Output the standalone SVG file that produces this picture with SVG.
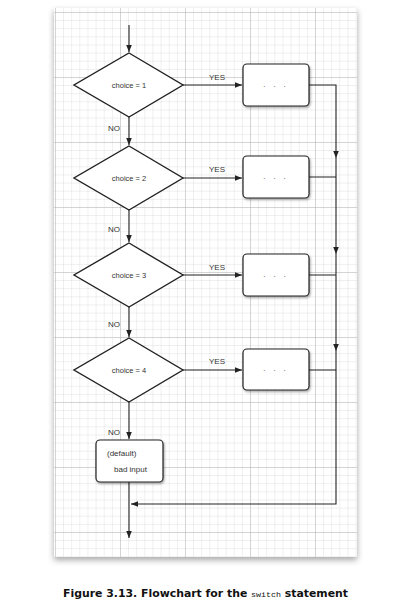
<svg xmlns="http://www.w3.org/2000/svg" width="402" height="607" viewBox="0 0 402 607">
<style>
.lbl{font-family:"Liberation Sans",Arial,sans-serif;font-size:8px;fill:#333}
.cond{font-family:"Liberation Sans",Arial,sans-serif;font-size:7.5px;fill:#333;text-anchor:middle}
.dia{fill:#fff;stroke:#222;stroke-width:1.4}
.box{fill:#fff;stroke:#222;stroke-width:1.2}
.con{fill:none;stroke:#222;stroke-width:1.1}
.cap{font-family:"DejaVu Sans",Verdana,sans-serif;font-weight:bold;font-size:10.5px;fill:#111}
.mono{font-family:"Liberation Mono","DejaVu Sans Mono",monospace;font-weight:normal;font-size:8px}
</style>
<defs>
<pattern id="minor" width="8.125" height="8.125" patternUnits="userSpaceOnUse" x="55" y="12">
<path d="M0 0H8.125M0 0V8.125" fill="none" stroke="#d8d8d8" stroke-width="0.8"/>
</pattern>
<pattern id="major" width="65" height="65" patternUnits="userSpaceOnUse" x="55" y="12">
<path d="M0 0H65M0 0V65" fill="none" stroke="#b4b4b4" stroke-width="0.9"/>
</pattern>
<filter id="pshadow" x="-10%" y="-10%" width="120%" height="120%">
<feDropShadow dx="0" dy="3" stdDeviation="3" flood-color="#000" flood-opacity="0.35"/>
</filter>
<filter id="bshadow" x="-20%" y="-20%" width="140%" height="140%">
<feDropShadow dx="1" dy="1.5" stdDeviation="1" flood-color="#000" flood-opacity="0.35"/>
</filter>
<marker id="arr" markerWidth="8" markerHeight="8" refX="7" refY="4" orient="auto" markerUnits="userSpaceOnUse">
<path d="M0 1.2L7 4L0 6.8z" fill="#222"/>
</marker>
</defs>
<rect width="402" height="607" fill="#fff"/>
<g id="paper">
<rect x="54" y="8" width="303" height="549" fill="#fff" filter="url(#pshadow)"/>
<rect x="54" y="8" width="303" height="549" fill="url(#minor)"/>
<rect x="54" y="8" width="303" height="549" fill="url(#major)"/>
</g>
<g id="connectors">
<path class="con" d="M129 25V52" marker-end="url(#arr)"/>
<path class="con" d="M129 117V145" marker-end="url(#arr)"/>
<path class="con" d="M129 210V242" marker-end="url(#arr)"/>
<path class="con" d="M129 307V337" marker-end="url(#arr)"/>
<path class="con" d="M129 402V439" marker-end="url(#arr)"/>
<path class="con" d="M183 85H242" marker-end="url(#arr)"/>
<path class="con" d="M183 178H242" marker-end="url(#arr)"/>
<path class="con" d="M183 275H242" marker-end="url(#arr)"/>
<path class="con" d="M183 370H242" marker-end="url(#arr)"/>
<path class="con" d="M309 85H336V158" marker-end="url(#arr)"/>
<path class="con" d="M336 158V254" marker-end="url(#arr)"/>
<path class="con" d="M336 254V351" marker-end="url(#arr)"/>
<path class="con" d="M336 351V504H131" marker-end="url(#arr)"/>
<path class="con" d="M309 177H336M309 275H336M309 370H336"/>
<path class="con" d="M129 482V538" marker-end="url(#arr)"/>
<text class="lbl" x="209" y="80">YES</text>
<text class="lbl" x="209" y="172">YES</text>
<text class="lbl" x="209" y="270">YES</text>
<text class="lbl" x="209" y="364">YES</text>
<text class="lbl" x="108" y="131">NO</text>
<text class="lbl" x="108" y="232">NO</text>
<text class="lbl" x="108" y="327">NO</text>
<text class="lbl" x="108" y="435">NO</text>
</g>
<g id="d1"><path class="dia" d="M129 53L183 85L129 117L74 85z"/><text class="cond" x="129" y="88">choice = 1</text></g>
<g id="d2"><path class="dia" d="M129 146L183 178L129 210L74 178z"/><text class="cond" x="129" y="181">choice = 2</text></g>
<g id="d3"><path class="dia" d="M129 243L183 275L129 307L74 275z"/><text class="cond" x="129" y="278">choice = 3</text></g>
<g id="d4"><path class="dia" d="M129 338L183 370L129 402L74 370z"/><text class="cond" x="129" y="373">choice = 4</text></g>
<g id="b1"><rect class="box" x="243" y="64" width="66" height="42" rx="4" filter="url(#bshadow)"/><text class="cond" x="276" y="87" letter-spacing="3">. . .</text></g>
<g id="b2"><rect class="box" x="243" y="156" width="66" height="42" rx="4" filter="url(#bshadow)"/><text class="cond" x="276" y="179" letter-spacing="3">. . .</text></g>
<g id="b3"><rect class="box" x="243" y="254" width="66" height="42" rx="4" filter="url(#bshadow)"/><text class="cond" x="276" y="277" letter-spacing="3">. . .</text></g>
<g id="b4"><rect class="box" x="243" y="349" width="66" height="41" rx="4" filter="url(#bshadow)"/><text class="cond" x="276" y="371" letter-spacing="3">. . .</text></g>
<g id="default"><rect class="box" x="96" y="440" width="67" height="42" rx="4" filter="url(#bshadow)"/>
<text class="lbl" x="107" y="456">(default)</text><text class="lbl" x="114" y="472">bad input</text></g>
<g id="caption">
<text class="cap" x="63" y="597" textLength="285" lengthAdjust="spacingAndGlyphs">Figure 3.13. Flowchart for the <tspan class="mono">switch</tspan> statement</text>
</g>
</svg>
